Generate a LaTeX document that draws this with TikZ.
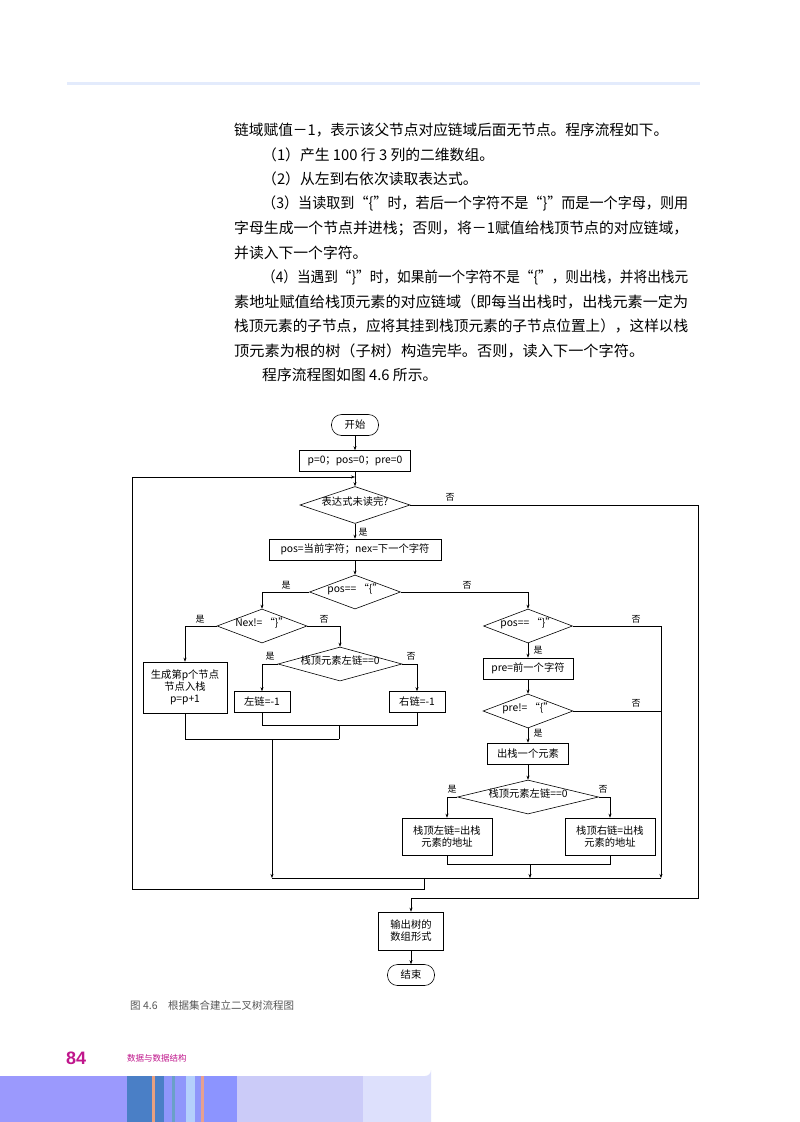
\documentclass[tikz,border=0pt]{standalone}
\usepackage{fontspec}
\setmainfont{Noto Sans CJK SC}
\newfontfamily\ftnum{Liberation Sans}
\usetikzlibrary{shapes.geometric,arrows.meta}
\definecolor{lineblue}{HTML}{E3EBFC}
\definecolor{mag}{HTML}{C0168C}
\definecolor{capg}{HTML}{555555}
\newcommand{\fullline}[2]{\resizebox{#1}{\height}{#2}}
\begin{document}
\begin{tikzpicture}[x=1pt,y=-1pt,
  fc/.style={font=\fontsize{10.3}{12}\selectfont, inner sep=0pt, align=center},
  bx/.style={fc, draw, line width=0.6pt, rectangle},
  term/.style={fc, draw, line width=0.6pt, rounded corners=10pt, minimum width=47pt, minimum height=21pt},
  dia/.style={fc, draw, line width=0.6pt, shape=diamond},
  lab/.style={font=\fontsize{9}{10}\selectfont, inner sep=0pt},
  ln/.style={line width=0.5pt},
  ar/.style={line width=0.5pt, -{Stealth[length=4pt,width=3pt]}},
  txt/.style={anchor=west, inner sep=0pt, font=\fontsize{14.8}{18}\selectfont}
]
\useasboundingbox (0,0) rectangle (800,1122);
\fill[white] (0,0) rectangle (800,1122);
% top rule
\fill[lineblue] (67,81.5) rectangle (700,84.5);
% body text
\node[txt] (t1) at (234,130) {\fullline{434pt}{链域赋值－1，表示该父节点对应链域后面无节点。程序流程如下。}};
\node[txt] (t2) at (262,154.5) {（1）产生 100 行 3 列的二维数组。};
\node[txt] (t3) at (262,179) {（2）从左到右依次读取表达式。};
\node[txt] (t4) at (262,203.5) {\fullline{426pt}{（3）当读取到“\{”时，若后一个字符不是“\}”而是一个字母，则用}};
\node[txt] (t5) at (234,228) {\fullline{454pt}{字母生成一个节点并进栈；否则，将－1赋值给栈顶节点的对应链域，}};
\node[txt] (t6) at (234,252.5) {并读入下一个字符。};
\node[txt] (t7) at (262,277) {\fullline{426pt}{（4）当遇到“\}”时，如果前一个字符不是“\{”，则出栈，并将出栈元}};
\node[txt] (t8) at (234,301.5) {\fullline{454pt}{素地址赋值给栈顶元素的对应链域（即每当出栈时，出栈元素一定为}};
\node[txt] (t9) at (234,326) {\fullline{454pt}{栈顶元素的子节点，应将其挂到栈顶元素的子节点位置上），这样以栈}};
\node[txt] (t10) at (234,350.5) {\fullline{410pt}{顶元素为根的树（子树）构造完毕。否则，读入下一个字符。}};
\node[txt] (t11) at (262,375) {程序流程图如图 4.6 所示。};
% flowchart nodes
\node[term] (start) at (355,425) {开始};
\node[bx, minimum width=111pt, minimum height=21pt] (init) at (355,461) {p=0；pos=0；pre=0};
\node[dia, minimum width=110pt, minimum height=37pt] (d1) at (355,505) {\smash{\makebox[0pt]{表达式未读完?}}};
\node[bx, minimum width=172pt, minimum height=21pt] (rd) at (355,549.5) {pos=当前字符；nex=下一个字符};
\node[dia, minimum width=91pt, minimum height=34pt] (d2) at (355,592) {\smash{\makebox[0pt]{pos== “\{”}}};
\node[dia, minimum width=90pt, minimum height=34pt] (d3) at (262,626) {\smash{\makebox[0pt]{Nex!= “\}”}}};
\node[dia, minimum width=124pt, minimum height=34pt] (d5) at (340,664) {\smash{\makebox[0pt]{栈顶元素左链==0}}};
\node[bx, minimum width=84pt, minimum height=51pt] (b1) at (185,687.5) {生成第p个节点\\节点入栈\\p=p+1};
\node[bx, minimum width=56pt, minimum height=21pt] (l1) at (262,702) {左链=-1};
\node[bx, minimum width=56pt, minimum height=21pt] (r1) at (417,702) {右链=-1};
\node[dia, minimum width=89pt, minimum height=34pt] (d4) at (528,626) {\smash{\makebox[0pt]{pos== “\}”}}};
\node[bx, minimum width=90pt, minimum height=21pt] (pr) at (528,668.5) {pre=前一个字符};
\node[dia, minimum width=90pt, minimum height=34pt] (d6) at (528,711) {\smash{\makebox[0pt]{pre!= “\{”}}};
\node[bx, minimum width=81pt, minimum height=21pt] (pop) at (528,753.5) {出栈一个元素};
\node[dia, minimum width=141pt, minimum height=34pt] (d7) at (528,797) {\smash{\makebox[0pt]{栈顶元素左链==0}}};
\node[bx, minimum width=90pt, minimum height=37pt] (lb) at (447,836.5) {栈顶左链=出栈\\元素的地址};
\node[bx, minimum width=90pt, minimum height=37pt] (rb) at (610,836.5) {栈顶右链=出栈\\元素的地址};
\node[bx, minimum width=65pt, minimum height=38pt] (out) at (411,931) {输出树的\\数组形式};
\node[term] (end) at (411,975) {结束};
% helper coordinates
\coordinate (c1) at (698,505); \coordinate (c2) at (698,898); \coordinate (c3) at (411,898);
\coordinate (j1) at (661,878); \coordinate (j2) at (272,878); \coordinate (j3) at (530,878);
\coordinate (m1) at (424,878); \coordinate (m2) at (424,889); \coordinate (m3) at (132,889);
\coordinate (m4) at (132,477); \coordinate (m5) at (355,477);
% connectors
\draw[ar] (start) -- (init);
\draw[ar] (init) -- (d1);
\draw[ar] (d1) -- (rd);
\draw[ln] (d1.east) -- (c1) -- (c2) -- (c3);
\draw[ar] (c3) -- (out.north);
\draw[ar] (rd) -- (d2);
\draw[ar] (d2.west) -| (d3.north);
\draw[ar] (d2.east) -| (d4.north);
\draw[ar] (d3.west) -| (b1.north);
\draw[ar] (d3.east) -| (d5.north);
\draw[ar] (d5.west) -| (l1.north);
\draw[ar] (d5.east) -| (r1.north);
\draw[ar] (d4.east) -| (j1);
\draw[ln] (d6.east) -- (661,711);
\draw[ar] (d4) -- (pr);
\draw[ar] (pr) -- (d6);
\draw[ar] (d6) -- (pop);
\draw[ar] (pop) -- (d7);
\draw[ar] (d7.west) -| (lb.north);
\draw[ar] (d7.east) -| (rb.north);
\draw[ln] (lb.south) |- (530,864) -| (rb.south);
\draw[ar] (530,864) -- (j3);
\draw[ln] (b1.south) |- (339,739);
\draw[ln] (l1.south) |- (417,725) -- (r1.south);
\draw[ln] (339,725) -- (339,739);
\draw[ar] (272,739) -- (j2);
\draw[ln] (j2) -- (j1);
\draw[ln] (m1) -- (m2) -- (m3) -- (m4);
\draw[ar] (m4) -- (m5);
\draw[ar] (out) -- (end);
% labels
\node[lab] at (450,497) {否};
\node[lab] at (363,532) {是};
\node[lab] at (286,585) {是};
\node[lab] at (467,585) {否};
\node[lab] at (200,619) {是};
\node[lab] at (324,619) {否};
\node[lab] at (270,656) {是};
\node[lab] at (411,656) {否};
\node[lab] at (636,619) {否};
\node[lab] at (538,650) {是};
\node[lab] at (636,703) {否};
\node[lab] at (538,733) {是};
\node[lab] at (452,789) {是};
\node[lab] at (603,789) {否};
% caption
\node[anchor=west, inner sep=0pt, text=capg, font=\fontsize{10.5}{12}\selectfont] (cap) at (130,1005) {图 4.6\quad 根据集合建立二叉树流程图};
% footer
\node[anchor=west, inner sep=0pt, text=mag, font=\ftnum\bfseries\fontsize{18}{20}\selectfont] (pg) at (66,1058) {84};
\node[anchor=west, inner sep=0pt, text=mag, font=\fontsize{8.5}{10}\selectfont] (ft) at (127,1058) {数据与数据结构};
\fill[fill={rgb,255:red,221;green,224;blue,252}] (355,1076) -- (425,1076) arc[start angle=90,end angle=0,radius=6] -- (431,1122) -- (355,1122) -- cycle;
\fill[fill={rgb,255:red,203;green,203;blue,248}] (237,1076) rectangle (363,1122);
\fill[fill={rgb,255:red,140;green,148;blue,255}] (204,1076) rectangle (237,1122);
\fill[fill={rgb,255:red,155;green,153;blue,253}] (0,1076) rectangle (127,1122);
\fill[fill={rgb,255:red,74;green,127;blue,198}] (127,1076) rectangle (164,1122);
\fill[fill={rgb,255:red,232;green,160;blue,128}] (152,1076) rectangle (155,1122);
\fill[fill={rgb,255:red,143;green,150;blue,251}] (164,1076) rectangle (204,1122);
\fill[fill={rgb,255:red,106;green,160;blue,200}] (172,1076) rectangle (175,1122);
\fill[fill={rgb,255:red,180;green,208;blue,252}] (186,1076) rectangle (195,1122);
\fill[fill={rgb,255:red,232;green,160;blue,144}] (201,1076) rectangle (204,1122);
\end{tikzpicture}
\end{document}
